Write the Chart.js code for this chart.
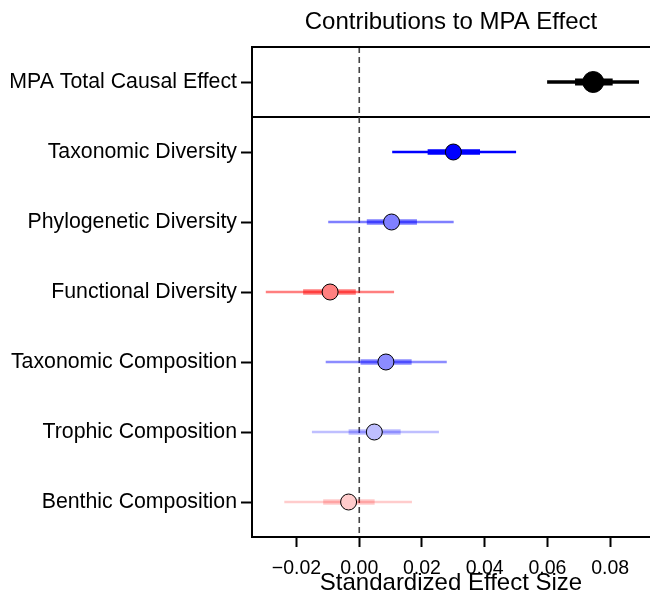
<!DOCTYPE html>
<html>
<head>
<meta charset="utf-8">
<script src="https://cdn.jsdelivr.net/npm/chart.js@4.4.1/dist/chart.umd.min.js"></script>
<style>
    html, body { margin: 0; padding: 0; background: #fff; }
    #wrap { width: 650px; height: 607px; }
</style>
</head>
<body>
<div id="wrap"><canvas id="grafico" width="650" height="607"></canvas></div>
<script>
// dados
const categorias = [
    "MPA Total Causal Effect",
    "Taxonomic Diversity",
    "Phylogenetic Diversity",
    "Functional Diversity",
    "Taxonomic Composition",
    "Trophic Composition",
    "Benthic Composition"
];
const estimativa = [0.0746, 0.0300, 0.0103, -0.0093, 0.0085, 0.0048, -0.0034];
const inf95 = [0.0599, 0.0105, -0.0099, -0.0298, -0.0107, -0.0151, -0.0239];
const sup95 = [0.0892, 0.0500, 0.0301, 0.0111, 0.0279, 0.0254, 0.0168];
const inf80 = [0.0688, 0.0218, 0.0024, -0.0179, 0.0004, -0.0034, -0.0115];
const sup80 = [0.0808, 0.0385, 0.0184, -0.0011, 0.0167, 0.0132, 0.0049];
const xTicks = [-0.02, 0.00, 0.02, 0.04, 0.06, 0.08];

// estilos
const corBase = [[0, 0, 0], [0, 0, 255], [0, 0, 255], [255, 0, 0], [0, 0, 255], [0, 0, 255], [255, 0, 0]];
const alfa = [1, 1, 0.5, 0.5, 0.45, 0.25, 0.2];
const xMin = -0.0342, xMax = 0.0927;
const fonte = "'Liberation Sans', Arial, Helvetica, sans-serif";

const rgba = (c, a) => `rgba(${c[0]},${c[1]},${c[2]},${a})`;
const solida = (c, a) => {
    const m = c.map(v => Math.round(255 * (1 - a) + v * a));
    return `rgb(${m[0]},${m[1]},${m[2]})`;
};

const datasets = [];

// linha tracejada no zero e separador
datasets.push({
    data: [{ x: 0, y: -0.5 }, { x: 0, y: 6.5 }],
    showLine: true, pointRadius: 0,
    borderColor: "#444", borderWidth: 1.6, borderDash: [6, 4],
    order: 5
});
datasets.push({
    data: [{ x: xMin, y: 0.5 }, { x: xMax, y: 0.5 }],
    showLine: true, pointRadius: 0,
    borderColor: "#000", borderWidth: 2,
    order: 5
});

categorias.forEach((_, i) => {
    const total = i === 0;
    datasets.push({
        data: [{ x: inf95[i], y: i }, { x: sup95[i], y: i }],
        showLine: true, pointRadius: 0,
        borderColor: rgba(corBase[i], alfa[i]),
        borderWidth: total ? 3.3 : 2.6,
        order: 3
    });
    datasets.push({
        data: [{ x: inf80[i], y: i }, { x: sup80[i], y: i }],
        showLine: true, pointRadius: 0,
        borderColor: rgba(corBase[i], alfa[i]),
        borderWidth: total ? 7 : 5.5,
        order: 2
    });
    datasets.push({
        data: [{ x: estimativa[i], y: i }],
        pointRadius: total ? 10.5 : 8,
        pointBackgroundColor: solida(corBase[i], alfa[i]),
        pointBorderColor: "#000",
        pointBorderWidth: 1,
        order: 1
    });
});

const bordaTopo = {
    id: "bordaTopo",
    afterDraw(chart) {
        const { ctx, chartArea } = chart;
        ctx.save();
        ctx.strokeStyle = "#000";
        ctx.lineWidth = 2;
        ctx.beginPath();
        ctx.moveTo(chartArea.left - 1, chartArea.top);
        ctx.lineTo(chartArea.right + 2, chartArea.top);
        ctx.stroke();
        ctx.restore();
    }
};

new Chart(document.getElementById("grafico"), {
    type: "scatter",
    data: { datasets },
    plugins: [bordaTopo],
    options: {
        responsive: false,
        animation: false,
        layout: { padding: 0, autoPadding: false },
        plugins: {
            legend: { display: false },
            tooltip: { enabled: false },
            title: {
                display: true,
                text: "Contributions to MPA Effect",
                fullSize: false,
                color: "#000",
                font: { family: fonte, size: 24, weight: "normal" },
                padding: { top: 7.5, bottom: 10.7 }
            }
        },
        scales: {
            x: {
                type: "linear",
                min: xMin, max: xMax,
                afterBuildTicks: s => { s.ticks = xTicks.map(v => ({ value: v })); },
                afterFit: s => { s.height = 70; s.paddingLeft = 0; s.paddingRight = 0; },
                grid: { drawOnChartArea: false, tickLength: 10, tickWidth: 2, tickColor: "#000" },
                border: { display: true, color: "#000", width: 2 },
                ticks: {
                    color: "#000", padding: 10,
                    font: { family: fonte, size: 19.5 },
                    callback: v => v.toFixed(2).replace("-", "\u2212")
                },
                title: {
                    display: true,
                    text: "Standardized Effect Size",
                    color: "#000",
                    font: { family: fonte, size: 24 },
                    padding: { top: 0, bottom: 9.6 }
                }
            },
            y: {
                type: "linear",
                min: -0.5, max: 6.5,
                reverse: true,
                afterBuildTicks: s => { s.ticks = categorias.map((_, i) => ({ value: i })); },
                afterFit: s => { s.width = 252; },
                grid: { drawOnChartArea: false, tickLength: 11, tickWidth: 2, tickColor: "#000" },
                border: { display: true, color: "#000", width: 2 },
                ticks: {
                    color: "#000", padding: 4,
                    font: { family: fonte, size: 21.3 },
                    callback: v => categorias[v]
                }
            }
        }
    }
});
</script>
</body>
</html>
